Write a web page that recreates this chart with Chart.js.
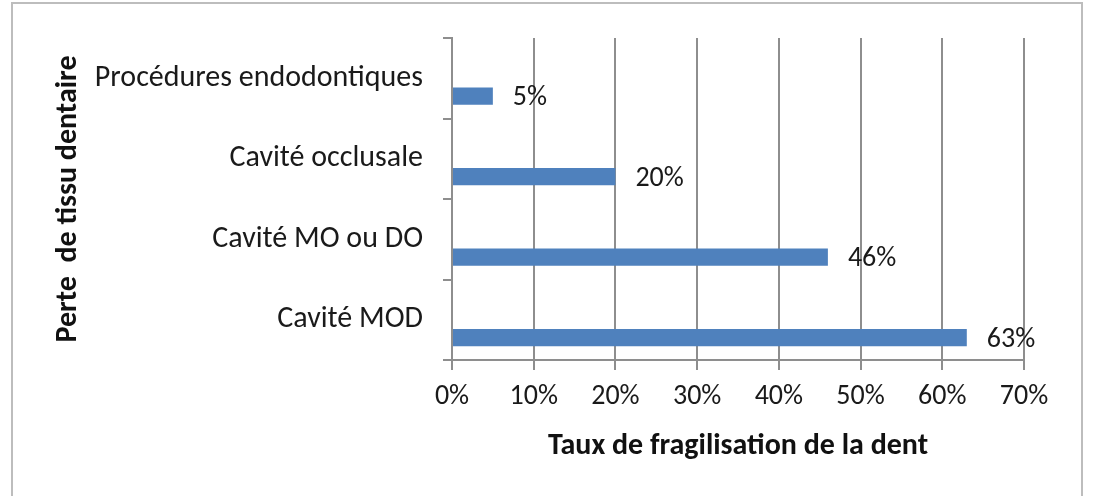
<!DOCTYPE html>
<html>
<head>
<meta charset="utf-8">
<script src="https://cdn.jsdelivr.net/npm/chart.js@4"></script>
<style>
  html, body { margin: 0; padding: 0; background: #fff; }
  #wrap { position: relative; width: 1093px; height: 496px; }
</style>
</head>
<body>
<div id="wrap"><canvas id="chart" width="1093" height="496"></canvas></div>
<script>
// categories top -> bottom, as in the picture
const categories = ['Procédures endodontiques', 'Cavité occlusale', 'Cavité MO ou DO', 'Cavité MOD'];
const values = [5, 20, 46, 63];
const xTicks = [0, 10, 20, 30, 40, 50, 60, 70];
const xTitle = 'Taux de fragilisation de la dent';
const yTitle = 'Perte  de tissu dentaire';

const FONT = 'Calibri, Carlito, Lato, sans-serif';
const GRID = '#8e8e8e';

// outer frame (left, top, right; bottom is cut off in the original)
const framePlugin = {
  id: 'frame',
  beforeDraw(chart) {
    const c = chart.ctx;
    c.save();
    c.strokeStyle = '#bdbdbd';
    c.lineWidth = 2;
    c.beginPath();
    c.moveTo(12, 500);
    c.lineTo(12, 3);
    c.lineTo(1082, 3);
    c.lineTo(1082, 500);
    c.stroke();
    c.restore();
  }
};

// value labels to the right of each bar
const valueLabels = {
  id: 'valueLabels',
  afterDatasetsDraw(chart) {
    const c = chart.ctx;
    const meta = chart.getDatasetMeta(1);
    c.save();
    c.fillStyle = '#1a1a1a';
    c.font = '28px ' + FONT;
    c.textAlign = 'left';
    c.textBaseline = 'middle';
    meta.data.forEach((bar, i) => {
      c.fillText(values[i] + '%', bar.x + 20, bar.y + 2);
    });
    c.restore();
  }
};

new Chart(document.getElementById('chart'), {
  type: 'bar',
  data: {
    labels: categories,
    datasets: [
      // empty spacer series: pushes the real bars into the lower half of each band
      { data: categories.map(() => null), backgroundColor: 'transparent' },
      { data: values, backgroundColor: '#4f81bd', borderWidth: 0 }
    ]
  },
  options: {
    indexAxis: 'y',
    responsive: false,
    animation: false,
    categoryPercentage: 0.89,
    barPercentage: 0.48,
    layout: { padding: { top: 35, right: 69, left: 50, bottom: 32 } },
    plugins: { legend: { display: false }, tooltip: { enabled: false } },
    scales: {
      x: {
        min: 0,
        max: 70,
        afterBuildTicks(axis) { axis.ticks = xTicks.map(v => ({ value: v })); },
        ticks: {
          color: '#1a1a1a',
          font: { family: FONT, size: 28 },
          padding: 10,
          callback: v => v + '%'
        },
        grid: { color: GRID, lineWidth: 2, tickLength: 10 },
        border: { color: GRID, width: 2 },
        title: {
          display: true,
          text: xTitle,
          color: '#111',
          font: { family: FONT, size: 30, weight: 'bold' },
          padding: 0
        },
        afterFit(axis) { axis.height = 104; }
      },
      y: {
        ticks: {
          color: '#1a1a1a',
          font: { family: FONT, size: 30 },
          padding: 20
        },
        grid: { drawOnChartArea: false, offset: true, color: GRID, lineWidth: 2, tickLength: 9 },
        border: { color: GRID, width: 2 },
        title: {
          display: true,
          text: yTitle,
          color: '#111',
          font: { family: FONT, size: 30, weight: 'bold' },
          padding: 0
        },
        afterFit(axis) { axis.width = 402; }
      }
    }
  },
  plugins: [framePlugin, valueLabels]
});
</script>
</body>
</html>
